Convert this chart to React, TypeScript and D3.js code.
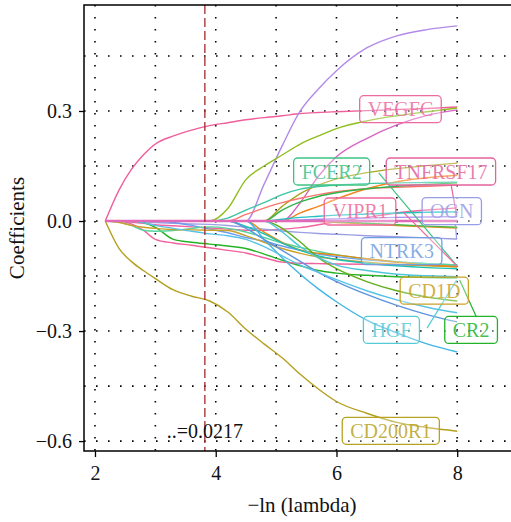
import React, { useEffect, useRef } from 'react';
import * as d3 from 'd3';

// -ln(lambda) values where every coefficient path is sampled
const lambdaGrid = [2.17, 2.4, 2.6, 2.8, 3.0, 3.3, 3.6, 3.9, 4.2, 4.5, 4.8, 5.1, 5.4, 5.7, 6.0, 6.5, 7.0, 7.5, 8.0];

// coefficient paths (one value per lambdaGrid point)
const pathVEGFC = [0, 0.085, 0.14, 0.18, 0.21, 0.232, 0.248, 0.26, 0.268, 0.276, 0.282, 0.287, 0.293, 0.296, 0.298, 0.301, 0.304, 0.307, 0.311];
const pathPurple = [0, 0, 0, 0, 0, 0, 0, 0, 0, 0, 0.1, 0.205, 0.3, 0.36, 0.41, 0.472, 0.505, 0.522, 0.532];
const pathLime = [0, 0, 0, 0, 0, 0, 0, 0, 0.034, 0.113, 0.15, 0.18, 0.21, 0.232, 0.252, 0.273, 0.287, 0.298, 0.308];
const pathTNFRSF17 = [0, 0, 0, 0, 0, 0, 0, 0, 0, 0, 0, 0, 0.05, 0.122, 0.175, 0.225, 0.262, 0.288, 0.303];
const pathOlive = [0, 0, 0, 0, 0, 0, 0, 0, 0, 0, 0, 0.04, 0.075, 0.098, 0.115, 0.132, 0.143, 0.151, 0.158];
const pathOrange = [0, 0, 0, 0, 0, 0, 0, 0, 0, 0, 0, 0, 0.022, 0.04, 0.06, 0.088, 0.107, 0.118, 0.125];
const pathFCER2 = [0, 0, 0, 0, 0, 0, 0, 0, 0.008, 0.03, 0.05, 0.072, 0.087, 0.094, 0.098, 0.102, 0.104, 0.105, 0.106];
const pathSalmon = [0, 0, 0, 0, 0, 0, 0, 0, 0, 0.018, 0.035, 0.05, 0.062, 0.072, 0.08, 0.088, 0.092, 0.095, 0.098];
const pathGreen = [0, 0, 0, 0, 0, 0, 0, 0, 0, 0, 0, 0.03, 0.052, 0.067, 0.077, 0.088, 0.095, 0.1, 0.104];
const pathVIPR1 = [0, 0, -0.003, -0.006, -0.01, -0.013, -0.016, -0.019, -0.022, -0.025, -0.025, -0.022, -0.018, -0.01, -0.002, 0.01, 0.022, 0.03, 0.036];
const pathTeal = [0, 0, 0, 0, 0, 0, 0, 0, 0, 0, 0, 0.005, 0.01, 0.013, 0.016, 0.019, 0.022, 0.024, 0.025];
const pathViolet = [0, 0, 0, 0, 0, 0, 0, 0, 0, 0, 0, 0.001, 0.003, 0.005, 0.006, 0.008, 0.01, 0.011, 0.012];
const pathAmber = [0, 0, 0, 0, 0, 0, 0, 0, 0, 0, 0, 0, 0, -0.001, -0.004, -0.008, -0.012, -0.016, -0.019];
const pathGreen2 = [0, 0, 0, 0, 0, 0, 0, 0, 0, 0, 0, 0, 0, 0, -0.002, -0.006, -0.01, -0.014, -0.017];
const pathOGN = [0, 0, 0, -0.002, -0.004, -0.006, -0.008, -0.009, -0.012, -0.017, -0.022, -0.027, -0.031, -0.034, -0.036, -0.04, -0.043, -0.046, -0.049];
const pathCR2 = [0, 0, 0, -0.004, -0.017, -0.05, -0.058, -0.063, -0.068, -0.075, -0.09, -0.107, -0.122, -0.135, -0.142, -0.148, -0.152, -0.154, -0.155];
const pathPink2 = [0, 0, -0.008, -0.025, -0.05, -0.06, -0.066, -0.073, -0.08, -0.087, -0.1, -0.112, -0.115, -0.116, -0.117, -0.118, -0.119, -0.12, -0.12];
const pathNTRK3 = [0, 0, 0, 0, 0, -0.004, -0.012, -0.022, -0.032, -0.045, -0.055, -0.068, -0.08, -0.09, -0.097, -0.106, -0.112, -0.116, -0.12];
const pathMint = [0, -0.003, -0.012, -0.025, -0.028, -0.026, -0.02, -0.016, -0.02, -0.03, -0.045, -0.06, -0.072, -0.083, -0.092, -0.103, -0.111, -0.116, -0.12];
const pathCD1D = [0, -0.004, -0.012, -0.017, -0.02, -0.023, -0.024, -0.025, -0.026, -0.04, -0.058, -0.075, -0.088, -0.098, -0.104, -0.112, -0.118, -0.122, -0.125];
const pathOrange2 = [0, 0, 0, 0, 0, 0, 0, 0, 0, 0, -0.03, -0.058, -0.079, -0.088, -0.093, -0.103, -0.112, -0.12, -0.125];
const pathTeal2 = [0, 0, 0, 0, 0, 0, 0, 0, 0, -0.015, -0.035, -0.06, -0.08, -0.095, -0.105, -0.115, -0.122, -0.127, -0.13];
const pathLime2 = [0, 0, 0, 0, 0, 0, 0, 0, 0, 0, 0, -0.02, -0.057, -0.1, -0.13, -0.165, -0.19, -0.207, -0.218];
const pathCyan = [0, 0, 0, 0, 0, 0, 0, 0, 0, 0, -0.05, -0.1, -0.145, -0.185, -0.22, -0.27, -0.305, -0.335, -0.357];
const pathBlue = [0, 0, 0, 0, 0, 0, 0, 0, 0, -0.02, -0.05, -0.08, -0.11, -0.14, -0.165, -0.2, -0.23, -0.255, -0.275];
const pathSky = [0, 0, 0, -0.005, -0.012, -0.02, -0.028, -0.035, -0.04, -0.05, -0.07, -0.095, -0.12, -0.14, -0.16, -0.19, -0.215, -0.235, -0.25];
const pathHGF = [0, 0, 0, 0, 0, 0, 0, 0, 0, 0, 0, -0.03, -0.07, -0.1, -0.12, -0.135, -0.145, -0.149, -0.152];
const pathCD200R1 = [0, -0.075, -0.11, -0.135, -0.157, -0.188, -0.205, -0.218, -0.248, -0.295, -0.335, -0.373, -0.418, -0.458, -0.492, -0.524, -0.549, -0.563, -0.573];
const pathZero = [0, 0, 0, 0, 0, 0, 0, 0, 0, 0, 0, 0, 0, 0, 0, 0, 0, 0, 0];

const paths = [
  pathVEGFC, pathPurple, pathLime, pathTNFRSF17, pathOlive, pathOrange, pathFCER2, pathSalmon,
  pathGreen, pathVIPR1, pathTeal, pathViolet, pathAmber, pathGreen2, pathOGN, pathCR2, pathPink2,
  pathNTRK3, pathMint, pathCD1D, pathOrange2, pathTeal2, pathLime2, pathCyan, pathBlue, pathSky,
  pathHGF, pathCD200R1, pathZero,
];
const pathColors = [
  '#ef5f9c', '#b28be8', '#8fbe1e', '#d965c4', '#a9a51c', '#f5841f', '#3fc6a5', '#f8766d',
  '#33b34c', '#f3649e', '#22c0c4', '#a58af0', '#e8901a', '#4bb848', '#9c9fe4', '#27b228', '#f2619d',
  '#6a9cf0', '#55d49c', '#c9a128', '#e58a15', '#1ec0b0', '#5fae1a', '#41b5e4', '#5f95de', '#58c3e8',
  '#4cc6d8', '#b49f1e', '#e06ab8',
];

// repelled labels (centre, in data units)
const labelNames = ['VEGFC', 'FCER2', 'TNFRSF17', 'VIPR1', 'OGN', 'NTRK3', 'CD1D', 'HGF', 'CR2', 'CD200R1'];
const labelX = [7.06, 5.92, 7.73, 6.39, 7.91, 7.08, 7.62, 6.91, 8.23, 6.9];
const labelY = [0.305, 0.135, 0.135, 0.026, 0.027, -0.082, -0.19, -0.297, -0.297, -0.572];
const labelColors = ['#ec6aa0', '#3cc383', '#e3629f', '#f0679b', '#979de6', '#729de0', '#c9a227', '#55cbd6', '#21b42b', '#b8a222'];

// label connector segments: [x1, y1, x2, y2]
const segments = [
  [7.9, 0.098, 7.99, 0.016],
  [7.97, -0.01, 7.99, -0.049],
  [6.7, 0.131, 8.01, -0.125],
  [7.1, 0.025, 8.01, -0.125],
  [8.04, -0.161, 8.32, -0.262],
  [7.5, -0.292, 7.99, -0.161],
];
const segmentColors = ['#e3629f', '#979de6', '#3cc383', '#f0679b', '#21b42b', '#55cbd6'];

const xTicks = [2, 4, 6, 8];
const yTicks = [-0.6, -0.3, 0, 0.3];
const xGrid = [2, 3, 4, 5, 6, 7, 8];
const yGrid = [-0.6, -0.45, -0.3, -0.15, 0, 0.15, 0.3, 0.45];
const lambdaMin = 3.82;
const lambdaText = '..=0.0217';

const FONT = 'Liberation Serif, DejaVu Serif, serif';

export default function App() {
  const svgRef = useRef<SVGSVGElement | null>(null);

  useEffect(() => {
    if (!svgRef.current) return;
    const width = 511;
    const height = 522;
    const panel = { left: 84, right: 520, top: 5, bottom: 451 };

    const svg = d3.select(svgRef.current);
    svg.selectAll('*').remove();
    svg.attr('width', width).attr('height', height).style('font-family', FONT);

    svg.append('rect').attr('width', width).attr('height', height).attr('fill', 'white');

    const x = d3.scaleLinear().domain([1.818, 9.04]).range([panel.left, panel.right]);
    const y = d3.scaleLinear().domain([-0.627, 0.589]).range([panel.bottom, panel.top]);

    svg.append('clipPath').attr('id', 'panel-clip')
      .append('rect')
      .attr('x', panel.left).attr('y', panel.top)
      .attr('width', panel.right - panel.left).attr('height', panel.bottom - panel.top);

    // dotted grid
    const grid = svg.append('g').attr('stroke', '#000').attr('stroke-width', 1.6).attr('stroke-dasharray', '1.6 10.4');
    grid.selectAll('.vgrid').data(xGrid).join('line')
      .attr('x1', d => x(d)).attr('x2', d => x(d))
      .attr('y1', panel.top).attr('y2', panel.bottom);
    grid.selectAll('.hgrid').data(yGrid).join('line')
      .attr('x1', panel.left).attr('x2', panel.right)
      .attr('y1', d => y(d)).attr('y2', d => y(d));

    // coefficient paths
    const line = d3.line<number>()
      .x((_, i) => x(lambdaGrid[i]))
      .y(d => y(d))
      .curve(d3.curveMonotoneX);

    const lines = svg.append('g').attr('clip-path', 'url(#panel-clip)');
    paths.forEach((p, i) => {
      lines.append('path')
        .attr('d', line(p))
        .attr('fill', 'none')
        .attr('stroke', pathColors[i])
        .attr('stroke-width', i === paths.length - 1 ? 2.4 : 1.4);
    });

    // lambda.min line
    svg.append('line')
      .attr('x1', x(lambdaMin)).attr('x2', x(lambdaMin))
      .attr('y1', panel.top).attr('y2', panel.bottom)
      .attr('stroke', '#a52a2a').attr('stroke-width', 1.3)
      .attr('stroke-dasharray', '9 4');

    svg.append('text')
      .attr('x', x(lambdaMin)).attr('y', y(-0.6) - 3)
      .attr('text-anchor', 'middle')
      .style('font-family', FONT).style('font-size', '20px')
      .attr('fill', '#111')
      .text(lambdaText);

    // connector segments
    segments.forEach((s, i) => {
      svg.append('line')
        .attr('x1', x(s[0])).attr('y1', y(s[1]))
        .attr('x2', x(s[2])).attr('y2', y(s[3]))
        .attr('stroke', segmentColors[i]).attr('stroke-width', 1.2);
    });

    // labels
    labelNames.forEach((name, i) => {
      const g = svg.append('g').attr('transform', `translate(${x(labelX[i])},${y(labelY[i])})`);
      const rect = g.append('rect');
      const t = g.append('text')
        .attr('text-anchor', 'middle')
        .attr('dy', '0.35em')
        .style('font-family', FONT).style('font-size', '20px')
        .attr('fill', labelColors[i])
        .attr('fill-opacity', 0.85)
        .text(name);
      const w = (t.node() as SVGTextElement).getComputedTextLength() + 16;
      rect.attr('x', -w / 2).attr('y', -13.5).attr('width', w).attr('height', 27)
        .attr('rx', 4)
        .attr('fill', 'white').attr('fill-opacity', 0.3)
        .attr('stroke', labelColors[i]).attr('stroke-width', 1.3);
    });

    // panel border (top, left, bottom)
    svg.append('path')
      .attr('d', `M${width},${panel.top}H${panel.left}V${panel.bottom}H${width}`)
      .attr('fill', 'none').attr('stroke', '#000').attr('stroke-width', 1.5);

    // axes
    const yAxis = svg.append('g')
      .attr('transform', `translate(${panel.left},0)`)
      .call(d3.axisLeft(y).tickValues(yTicks).tickFormat(d3.format('.1f')).tickSize(5).tickPadding(7));
    yAxis.select('.domain').remove();
    yAxis.selectAll('line').attr('stroke-width', 1.3);
    yAxis.selectAll('text').style('font-family', FONT).style('font-size', '20px').attr('fill', '#111');

    const xAxis = svg.append('g')
      .attr('transform', `translate(0,${panel.bottom})`)
      .call(d3.axisBottom(x).tickValues(xTicks).tickFormat(d3.format('d')).tickSize(6).tickPadding(9));
    xAxis.select('.domain').remove();
    xAxis.selectAll('line').attr('stroke-width', 1.3);
    xAxis.selectAll('text').style('font-family', FONT).style('font-size', '20px').attr('fill', '#111');

    // axis titles
    svg.append('text')
      .attr('x', (panel.left + panel.right) / 2).attr('y', 512)
      .attr('text-anchor', 'middle')
      .style('font-family', FONT).style('font-size', '21px').attr('fill', '#111')
      .text('\u2212ln (lambda)');

    svg.append('text')
      .attr('transform', `translate(24,${(panel.top + panel.bottom) / 2}) rotate(-90)`)
      .attr('text-anchor', 'middle')
      .style('font-family', FONT).style('font-size', '21px').attr('fill', '#111')
      .text('Coefficients');
  }, []);

  return (
    <svg
      ref={svgRef}
      width={511}
      height={522}
      style={{ position: 'absolute', left: 0, top: 0, display: 'block' }}
    />
  );
}
